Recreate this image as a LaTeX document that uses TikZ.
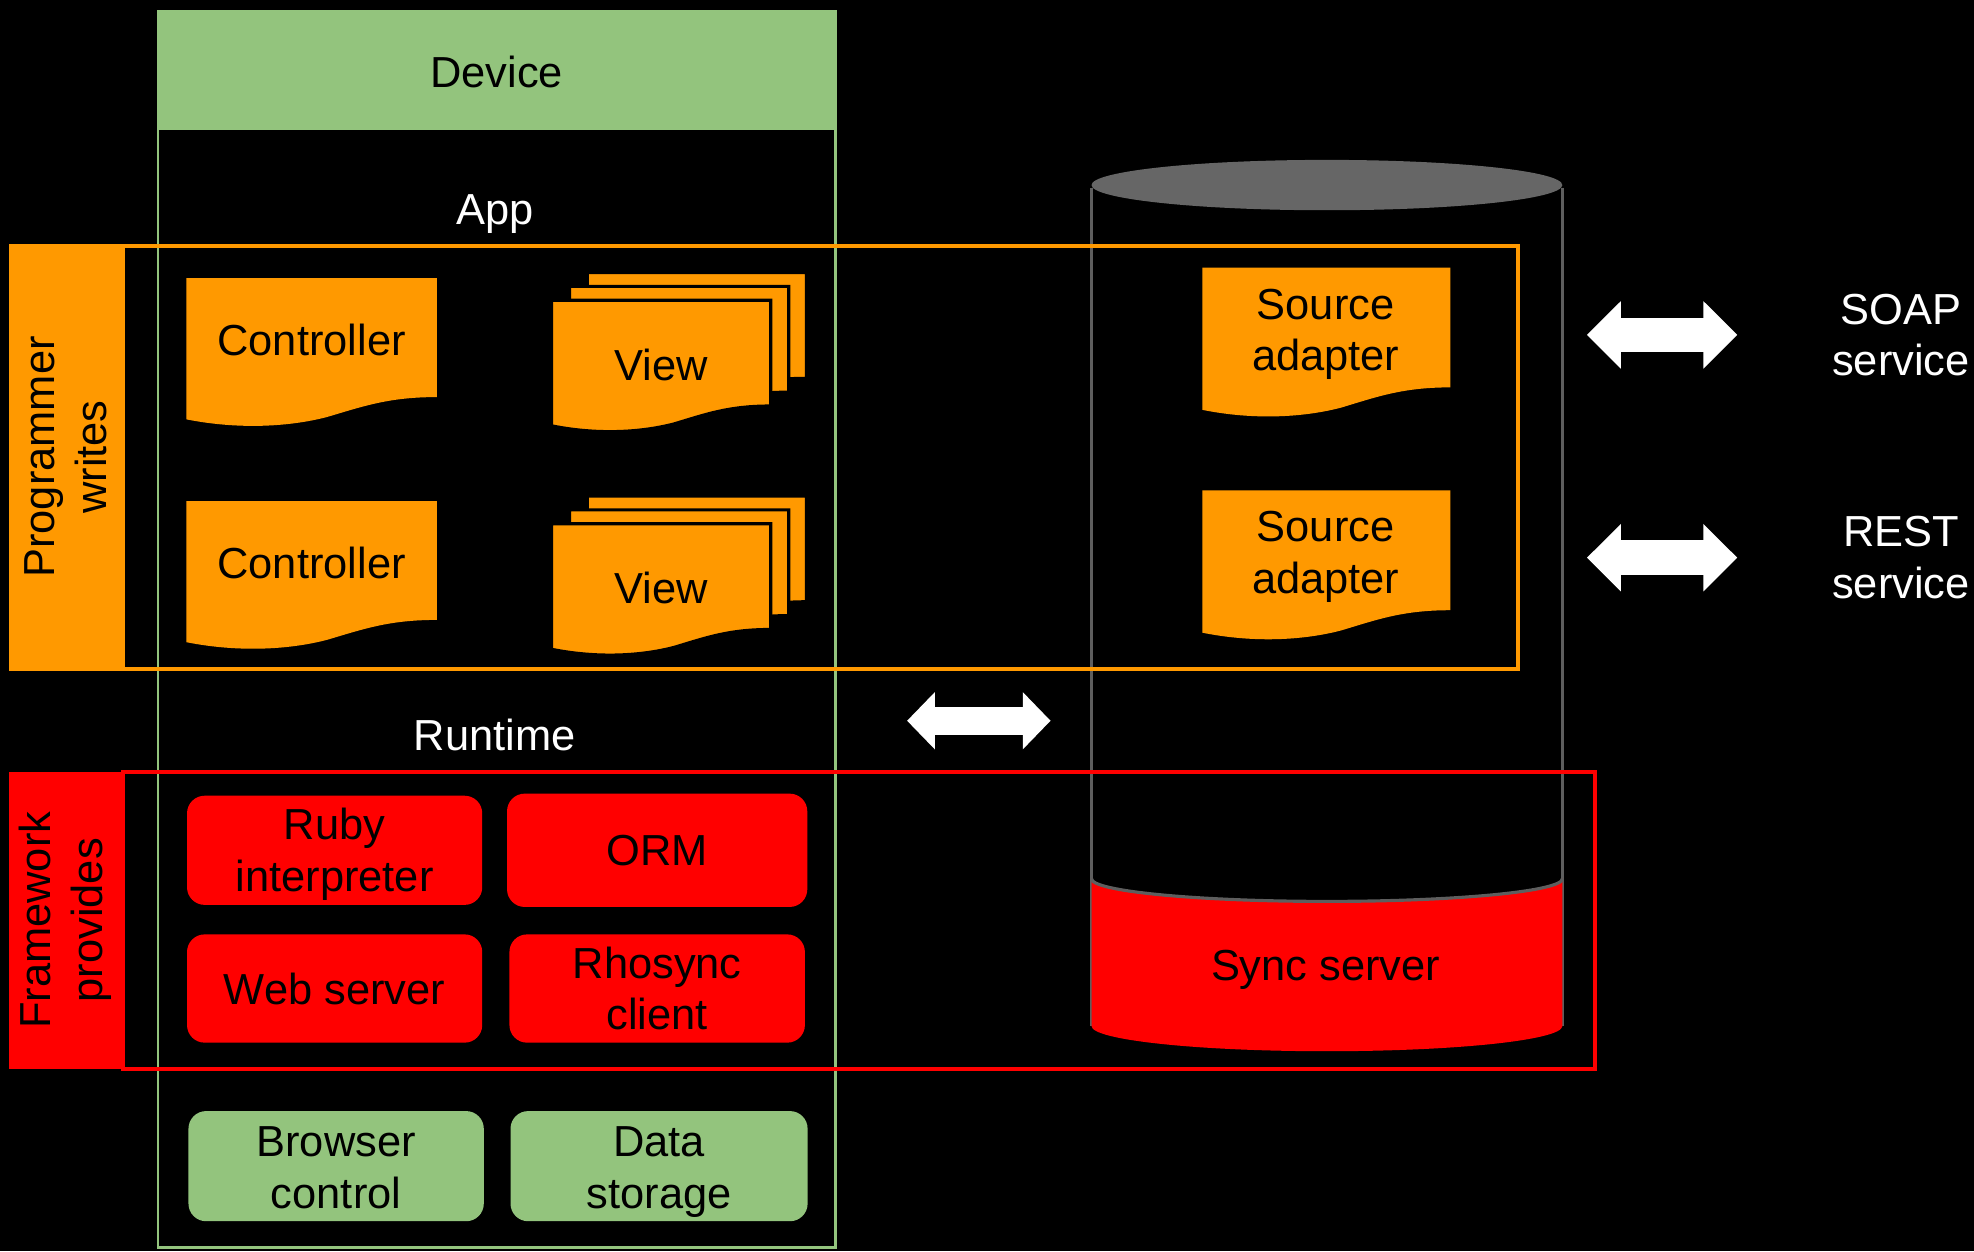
\documentclass[tikz,border=0pt]{standalone}
\usepackage{fontspec}
\setmainfont{Liberation Sans}
\usetikzlibrary{arrows.meta}
\definecolor{dorange}{HTML}{FF9900}
\definecolor{dgreen}{HTML}{93C47D}
\definecolor{dred}{HTML}{FF0000}
\definecolor{cylgray}{HTML}{5E5E5E}
\definecolor{cyltop}{HTML}{666666}
\newcommand\docshape[5]{\begin{scope}[shift={(#1,#2)},xscale=#3,yscale=#4]
\path[#5] (0,0) -- (1,0) -- (1,0.80) .. controls (0.81,0.80) and (0.71,0.86) .. (0.56,0.935) .. controls (0.41,1.0) and (0.21,1.02) .. (0,0.95) -- cycle;
\end{scope}}
\begin{document}
\begin{tikzpicture}[x=1pt,y=-1pt,
  every node/.style={font=\fontsize{34.5}{41}\selectfont, inner sep=0pt, align=center},
  wtxt/.style={text=white},
  btxt/.style={text=black},
  docfill/.style={fill=dorange},
  viewlayer/.style={fill=dorange, draw=black, line width=2.5pt},
  rbox/.style={fill=dred, rounded corners=14pt, text=black},
  gbox/.style={fill=dgreen, rounded corners=14pt, text=black},
  oframe/.style={draw=dorange, line width=3pt},
  rframe/.style={draw=dred, line width=3pt},
  dblarrow/.style={white, line width=27.5pt, {Triangle[width=52pt,length=27pt]}-{Triangle[width=52pt,length=27pt]}},
  dblarrowsm/.style={white, line width=22.5pt, {Triangle[width=44pt,length=22pt]}-{Triangle[width=44pt,length=22pt]}}
]
\useasboundingbox[fill=black] (0,0) rectangle (1568,994);

% Device
\fill[dgreen] (125.5,9) rectangle (663.5,103.5);
\draw[dgreen, line width=2pt] (125.5,9) rectangle (663.5,991);
\node[btxt] (device) at (394.5,57) {Device};
\node[wtxt] (app) at (393,170) {App};
\node[wtxt] (runtime) at (393,584) {Runtime};

% Cylinder (sync server)
\draw[cylgray, line width=2pt] (867,149) -- (867,815) (1241,149) -- (1241,815);
\fill[dred] (867,698) arc[start angle=180,end angle=360,x radius=187pt,y radius=18pt] -- (1241,815) arc[start angle=0,end angle=-180,x radius=187pt,y radius=20pt] -- cycle;
\draw[cylgray, line width=2.5pt] (867,698) arc[start angle=180,end angle=360,x radius=187pt,y radius=18pt];
\fill[cyltop] (1054,147) ellipse[x radius=187pt, y radius=20pt];
\node[btxt] (sync) at (1053,770) {Sync server};

% Programmer writes frame
\draw[oframe] (97.5,195.5) rectangle (1206,531.5);
\fill[dorange] (7.5,194) rectangle (98,533);
\node[btxt, rotate=90] (prog) at (52,363) {Programmer\\writes};

% Controllers
\docshape{148}{221}{199}{118}{docfill}
\node[btxt] (ctrl1) at (247.5,270) {Controller};
\docshape{148}{398}{199}{118}{docfill}
\node[btxt] (ctrl2) at (247.5,447) {Controller};

% Views
\docshape{466.5}{216.5}{174}{105}{viewlayer}
\docshape{452.5}{227.5}{174}{105}{viewlayer}
\docshape{438.2}{238.5}{174}{105}{viewlayer}
\node[btxt] (view1) at (525,290) {View};
\docshape{466.5}{394}{174}{105}{viewlayer}
\docshape{452.5}{405}{174}{105}{viewlayer}
\docshape{438.2}{416}{174}{105}{viewlayer}
\node[btxt] (view2) at (525,467) {View};

% Source adapters
\docshape{955}{212.5}{197}{119}{docfill}
\node[btxt] (src1) at (1053,265.5) {Source\\adapter};
\docshape{955}{389.5}{197}{119}{docfill}
\node[btxt] (src2) at (1053,442.5) {Source\\adapter};

% Services
\node[wtxt] (soap) at (1510,266) {SOAP\\service};
\node[wtxt] (rest) at (1510,443) {REST\\service};
\coordinate (a1l) at (1260.5,266);
\coordinate (a1r) at (1380,266);
\coordinate (a2l) at (1260.5,443);
\coordinate (a2r) at (1380,443);
\coordinate (a3l) at (720.5,572.5);
\coordinate (a3r) at (834.5,572.5);
\draw[dblarrow] (a1l) -- (a1r);
\draw[dblarrow] (a2l) -- (a2r);
\draw[dblarrowsm] (a3l) -- (a3r);

% Framework provides frame
\draw[rframe] (98,613) rectangle (1267,849);
\fill[dred] (7.5,613) rectangle (99,849.5);
\node[btxt, rotate=90] (frame) at (52,731) {Framework\\provides};

\node[rbox, minimum width=234.5pt, minimum height=86.7pt] (ruby) at (265.8,675.4) {};
\node[btxt] (rubyt) at (265.8,678.4) {Ruby\\interpreter};
\node[rbox, minimum width=238.5pt, minimum height=90pt] (orm) at (522,675.4) {ORM};
\node[rbox, minimum width=234.5pt, minimum height=86pt] (web) at (265.8,785.2) {Web server};
\node[rbox, minimum width=234.7pt, minimum height=86pt] (rho) at (522,785.2) {Rhosync\\client};

\node[gbox, minimum width=234.6pt, minimum height=87.5pt] (browser) at (267,926.3) {};
\node[btxt] (browsert) at (267,927.8) {Browser\\control};
\node[gbox, minimum width=236pt, minimum height=87.5pt] (data) at (523.5,926.3) {};
\node[btxt] (datat) at (523.5,930.8) {Data\\storage};
\end{tikzpicture}
\end{document}
